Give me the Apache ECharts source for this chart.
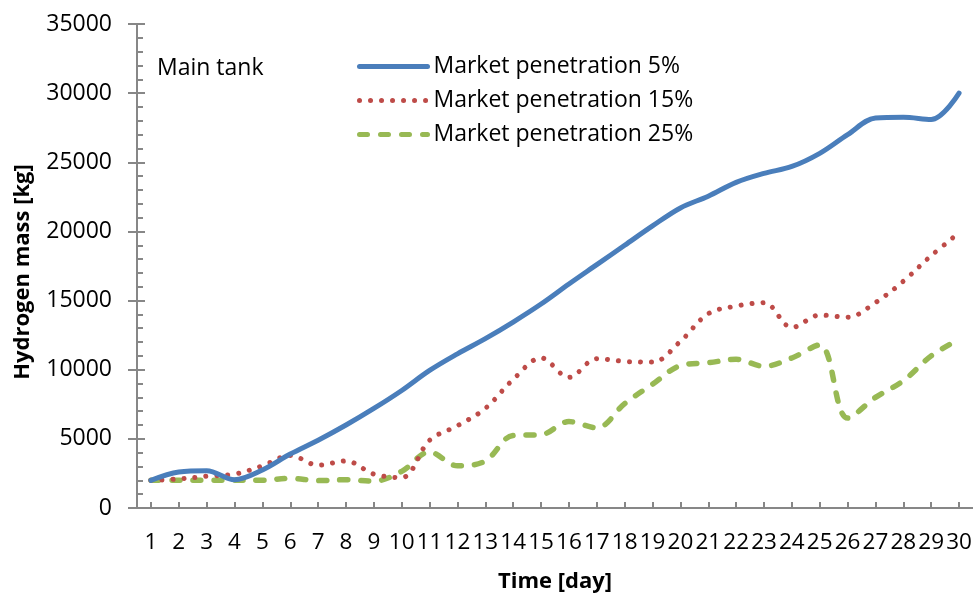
<!DOCTYPE html>
<html>
<head>
<meta charset="utf-8">
<style>
  html, body { margin: 0; padding: 0; background: #fff; }
  #chart { width: 973px; height: 596px; }
</style>
<script src="https://cdn.jsdelivr.net/npm/echarts@6/dist/echarts.min.js"></script>
</head>
<body>
<div id="chart"></div>
<script>
// Hydrogen mass in the main tank over a 30-day period, for three market penetration levels
const days = ['1','2','3','4','5','6','7','8','9','10','11','12','13','14','15','16','17','18','19','20','21','22','23','24','25','26','27','28','29','30'];

const penetration5 = [2000, 2600, 2700, 2050, 2750, 3900, 4900, 6000, 7200, 8500,
  9950, 11150, 12250, 13450, 14750, 16200, 17600, 19000, 20400, 21700,
  22550, 23550, 24200, 24700, 25650, 27000, 28200, 28250, 28100, 30000];

const penetration15 = [2000, 2100, 2300, 2450, 3050, 3800, 3100, 3400, 2450, 2200,
  4900, 5950, 7200, 9300, 10850, 9450, 10800, 10600, 10550, 12050,
  14050, 14600, 14850, 13050, 13950, 13800, 14850, 16400, 18250, 19900];

const penetration25 = [2000, 2000, 2000, 2000, 2000, 2150, 1980, 2050, 1950, 2650,
  4050, 3050, 3400, 5250, 5300, 6250, 5800, 7550, 8950, 10300,
  10500, 10750, 10250, 10850, 11800, 6500, 8000, 9200, 11000, 12200];

const seriesNames = ['Market penetration 5%', 'Market penetration 15%', 'Market penetration 25%'];
const yTicks = { min: 0, max: 35000, step: 5000 };

const FONT = '"Open Sans", sans-serif';
const AXIS_GREY = '#878787';

const chart = echarts.init(document.getElementById('chart'), null, { renderer: 'canvas' });

const baseSeries = {
  type: 'line',
  smooth: 0.35,
  symbol: 'none',
  xAxisIndex: 0,
  yAxisIndex: 0
};

chart.setOption({
  animation: false,
  backgroundColor: '#ffffff',
  title: {
    text: 'Main tank',
    left: 157,
    top: 57,
    padding: 0,
    textStyle: { fontFamily: FONT, fontSize: 23, fontWeight: 'normal', color: '#000' }
  },
  legend: {
    orient: 'vertical',
    left: 357,
    top: 55,
    padding: 0,
    itemWidth: 68,
    itemHeight: 14,
    itemGap: 11,
    itemStyle: { opacity: 0 },
    lineStyle: { width: 5, cap: 'round' },
    textStyle: { fontFamily: FONT, fontSize: 23, color: '#000', padding: [0, 0, 0, 1] },
    data: seriesNames
  },
  grid: { left: 137, right: 0, top: 24, bottom: 88, containLabel: false, outerBoundsMode: 'none' },
  xAxis: {
    type: 'category',
    data: days,
    boundaryGap: true,
    name: 'Time [day]',
    nameLocation: 'middle',
    nameGap: 63,
    nameTextStyle: { fontFamily: FONT, fontSize: 22, fontWeight: 'bold', color: '#000' },
    axisLine: { lineStyle: { color: AXIS_GREY, width: 2 } },
    axisTick: { show: true, inside: true, alignWithLabel: true, length: 6, lineStyle: { color: AXIS_GREY, width: 2 } },
    axisLabel: { interval: 0, margin: 23, fontFamily: FONT, fontSize: 22.5, color: '#000' },
    splitLine: { show: false }
  },
  yAxis: [
    {
      type: 'value',
      min: yTicks.min,
      max: yTicks.max,
      interval: yTicks.step,
      name: 'Hydrogen mass [kg]',
      nameLocation: 'middle',
      nameGap: 103,
      nameTextStyle: { fontFamily: FONT, fontSize: 22, fontWeight: 'bold', color: '#000', padding: [0, 12, 0, 0] },
      axisLine: { show: true, lineStyle: { color: AXIS_GREY, width: 2 } },
      axisTick: { show: true, inside: false, length: 9, lineStyle: { color: AXIS_GREY, width: 2 } },
      axisLabel: { margin: 25, fontFamily: FONT, fontSize: 23, color: '#000', formatter: v => String(v) },
      splitLine: { show: false }
    },
    {
      // companion axis carrying the inner half of the major ticks and the minor ticks
      type: 'value',
      position: 'left',
      min: yTicks.min,
      max: yTicks.max,
      interval: yTicks.step,
      axisLine: { show: false },
      axisTick: { show: true, inside: true, length: 8, lineStyle: { color: AXIS_GREY, width: 2 } },
      minorTick: { show: true, splitNumber: 5, length: 6, lineStyle: { color: AXIS_GREY, width: 2 } },
      axisLabel: { show: false },
      splitLine: { show: false }
    }
  ],
  series: [
    Object.assign({}, baseSeries, {
      name: seriesNames[0],
      data: penetration5,
      z: 3,
      itemStyle: { color: '#4A7EBB' },
      lineStyle: { color: '#4A7EBB', width: 5, cap: 'round' }
    }),
    Object.assign({}, baseSeries, {
      name: seriesNames[1],
      data: penetration15,
      z: 2,
      itemStyle: { color: '#BE4B48' },
      lineStyle: { color: '#BE4B48', width: 5, type: [0.01, 11], cap: 'round' }
    }),
    Object.assign({}, baseSeries, {
      name: seriesNames[2],
      data: penetration25,
      z: 1,
      itemStyle: { color: '#98B954' },
      lineStyle: { color: '#98B954', width: 5.5, type: [8, 13], cap: 'round' }
    })
  ]
});
</script>
</body>
</html>
